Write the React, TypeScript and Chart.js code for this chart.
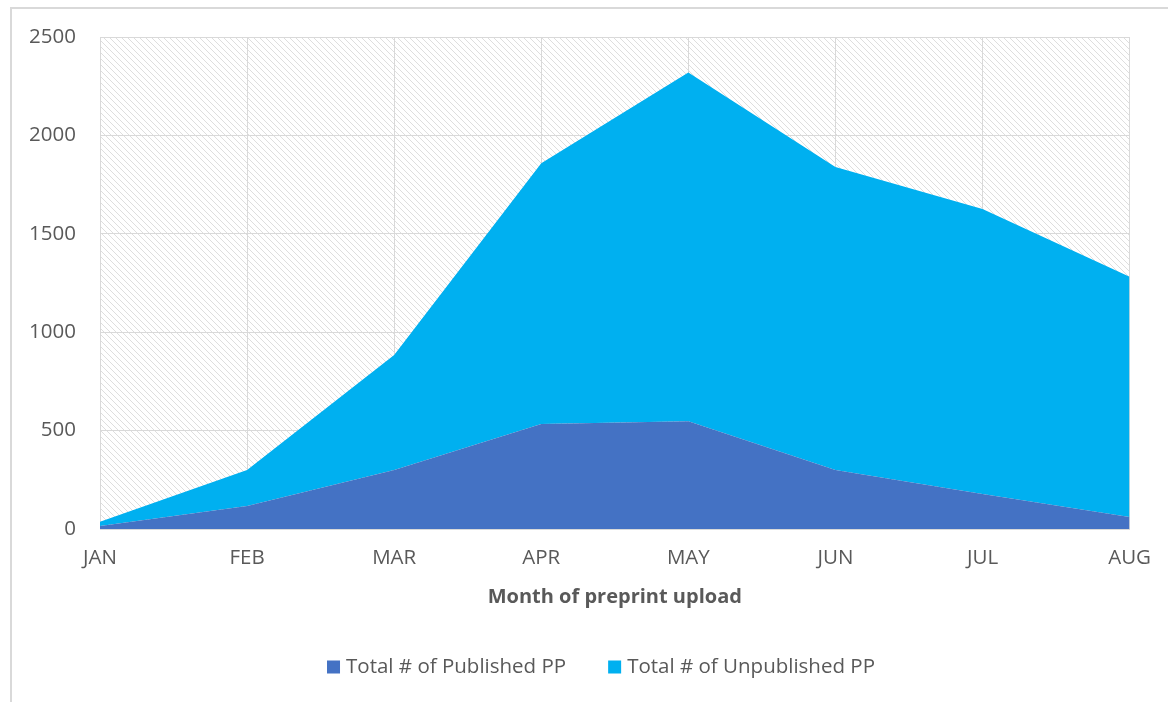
import React, { useEffect, useRef } from "react";
import { Chart, registerables } from "chart.js";

Chart.register(...registerables);

const months = ["JAN", "FEB", "MAR", "APR", "MAY", "JUN", "JUL", "AUG"];
const published = [15, 117, 300, 533, 548, 300, 178, 61];
const unpublished = [22, 183, 584, 1325, 1772, 1539, 1448, 1221];
const yTickValues = [0, 500, 1000, 1500, 2000, 2500];
const seriesNames = ["Total # of Published PP", "Total # of Unpublished PP"];
const seriesColors = ["#4472C4", "#00B0F0"];
const xTitle = "Month of preprint upload";

const FONT = "'Open Sans', 'Noto Sans', sans-serif";
const TEXT = "#595959";
const GRID = "#d9d9d9";

function makeHatch(ctx: CanvasRenderingContext2D) {
  const c = document.createElement("canvas");
  const p = 6;
  c.width = p;
  c.height = p;
  const g = c.getContext("2d")!;
  g.strokeStyle = "#dedede";
  g.lineWidth = 1;
  g.beginPath();
  g.moveTo(-1, -1);
  g.lineTo(p + 1, p + 1);
  g.moveTo(-1, p - 1);
  g.lineTo(1, p + 1);
  g.moveTo(p - 1, -1);
  g.lineTo(p + 1, 1);
  g.stroke();
  return ctx.createPattern(c, "repeat");
}

const backgroundPlugin = {
  id: "hatchBg",
  beforeDraw(chart: any) {
    const { ctx, chartArea } = chart;
    ctx.save();
    ctx.fillStyle = "#ffffff";
    ctx.fillRect(0, 0, chart.width, chart.height);
    const pat = makeHatch(ctx);
    if (pat) {
      ctx.fillStyle = pat;
      ctx.fillRect(chartArea.left, chartArea.top, chartArea.right - chartArea.left, chartArea.bottom - chartArea.top);
    }
    ctx.restore();
  },
  afterDraw(chart: any) {
    const { ctx } = chart;
    ctx.save();
    // outer frame
    ctx.strokeStyle = GRID;
    ctx.lineWidth = 2;
    ctx.strokeRect(11, 8, 1400, 1000);
    // legend
    ctx.font = `20.5px ${FONT}`;
    ctx.textBaseline = "middle";
    ctx.textAlign = "left";
    const box = 13;
    const gapBoxText = 6;
    const gapItems = 42;
    const widths = seriesNames.map((n) => ctx.measureText(n).width);
    const total = widths.reduce((a, w) => a + box + gapBoxText + w, 0) + gapItems * (seriesNames.length - 1);
    let x = 601 - total / 2;
    const yc = 667;
    seriesNames.forEach((n, i) => {
      ctx.fillStyle = seriesColors[i];
      ctx.fillRect(x, yc - box / 2, box, box);
      x += box + gapBoxText;
      ctx.fillStyle = TEXT;
      ctx.fillText(n, x, yc);
      x += widths[i] + gapItems;
    });
    ctx.restore();
  },
};

export default function App() {
  const ref = useRef<HTMLCanvasElement | null>(null);
  useEffect(() => {
    if (!ref.current) return;
    const chart = new Chart(ref.current, {
      type: "line",
      data: {
        labels: months,
        datasets: [
          {
            label: seriesNames[0],
            data: published,
            backgroundColor: seriesColors[0],
            borderColor: seriesColors[0],
            borderWidth: 0,
            pointRadius: 0,
            fill: "origin",
            tension: 0,
          },
          {
            label: seriesNames[1],
            data: unpublished,
            backgroundColor: seriesColors[1],
            borderColor: seriesColors[1],
            borderWidth: 0,
            pointRadius: 0,
            fill: "-1",
            tension: 0,
          },
        ],
      },
      options: {
        responsive: false,
        animation: false,
        devicePixelRatio: 1,
        layout: { padding: { left: 0, top: 37, right: 36, bottom: 83 } },
        plugins: {
          legend: { display: false },
          tooltip: { enabled: false },
        },
        scales: {
          x: {
            type: "category",
            offset: false,
            grid: { color: GRID, lineWidth: 1, drawTicks: false },
            border: { color: GRID, width: 1 },
            ticks: { color: TEXT, font: { family: FONT, size: 20.5 }, padding: 17, maxRotation: 0, autoSkip: false },
            title: {
              display: true,
              text: xTitle,
              color: TEXT,
              font: { family: FONT, size: 20, weight: "bold" },
              padding: { top: 0, bottom: 10 },
            },
            afterFit(scale: any) {
              scale.height = 90;
            },
          },
          y: {
            stacked: true,
            min: 0,
            max: 2500,
            grid: { color: GRID, lineWidth: 1, drawTicks: false },
            border: { display: false },
            ticks: {
              color: TEXT,
              font: { family: FONT, size: 20.5 },
              padding: 24,
              callback: (v: any) => String(v),
            },
            afterBuildTicks(scale: any) {
              scale.ticks = yTickValues.map((v) => ({ value: v }));
            },
            afterFit(scale: any) {
              scale.width = 100;
            },
          },
        },
      },
      plugins: [backgroundPlugin],
    } as any);
    return () => chart.destroy();
  }, []);
  return (
    <div style={{ position: "absolute", left: 0, top: 0, width: 1168, height: 702 }}>
      <canvas ref={ref} width={1168} height={702} style={{ width: 1168, height: 702, display: "block" }} />
    </div>
  );
}
